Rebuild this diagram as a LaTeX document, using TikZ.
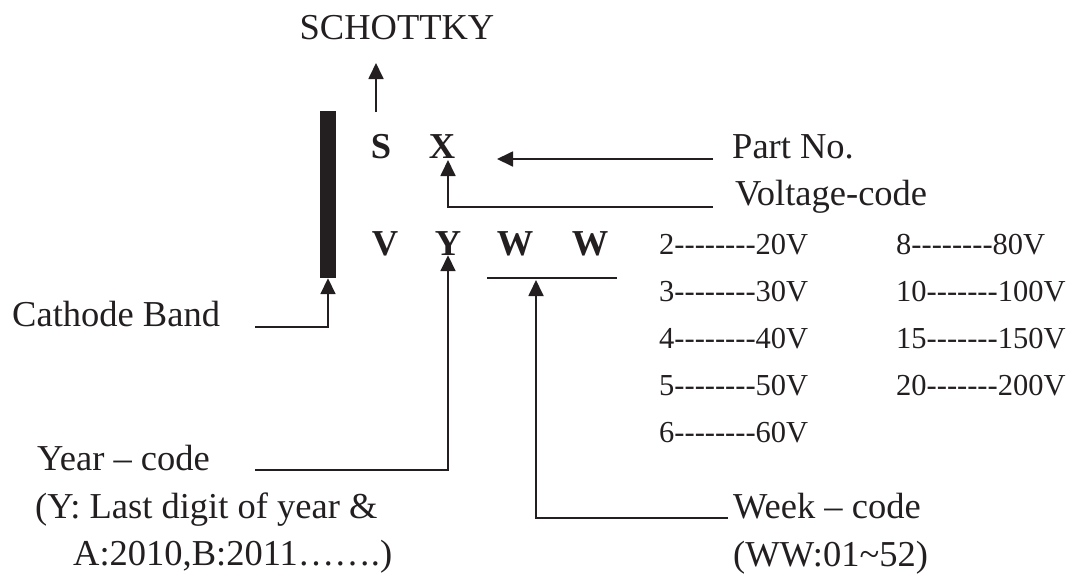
\documentclass[tikz,border=0pt]{standalone}
\usepackage{fontspec}
\setmainfont{Liberation Serif}[Ligatures=TeXOff]
\usetikzlibrary{arrows.meta, positioning}
\definecolor{ink}{HTML}{231F20}

\begin{document}
\begin{tikzpicture}[
    x=1pt, y=-1pt,
    lbl/.style={font=\fontsize{36.5}{44}\selectfont, text=ink, inner sep=0pt, anchor=base west},
    mark code/.style={font=\fontsize{36.5}{44}\selectfont\bfseries, text=ink, inner sep=0pt, anchor=base},
    volt/.style={font=\fontsize{30.5}{37}\selectfont, text=ink, inner sep=0pt, anchor=base west},
    line/.style={draw=ink, line width=1.8pt},
    arrow/.style={line, -{Triangle[length=16pt, width=15pt]}}
]
    \useasboundingbox (0,0) rectangle (1078,576);

    % marking letters
    \node[lbl, anchor=base] (schottky) at (397,39) {SCHOTTKY};
    \node[mark code] (scode) at (381,158) {S};
    \node[mark code] (xcode) at (442,158) {X};
    \node[mark code] (vcode) at (385,255) {V};
    \node[mark code] (ycode) at (448,255) {Y};
    \node[mark code] (wcode1) at (515,255) {W};
    \node[mark code] (wcode2) at (590,255) {W};
    \node[fill=ink, minimum width=16pt, minimum height=167pt, inner sep=0pt] (band) at (328,194.5) {};

    % labels
    \node[lbl] (part) at (732,158) {Part No.};
    \node[lbl] (voltage) at (735,205) {Voltage-code};
    \node[lbl] (cathode) at (12,326) {Cathode Band};
    \node[lbl] (year) at (37,470) {Year – code};
    \node[lbl] (yearnote) at (35,518) {(Y: Last digit of year \&};
    \node[lbl] (yearnote2) at (73,565) {A:2010,B:2011…….)};
    \node[lbl] (week) at (733,518) {Week – code};
    \node[lbl] (weeknote) at (733,566) {(WW:01\textasciitilde52)};

    % voltage table
    \foreach \txt [count=\i from 0] in {2--------20V, 3--------30V, 4--------40V, 5--------50V, 6--------60V}
        \node[volt] (vlow\i) at (659,{254+47*\i}) {\txt};
    \foreach \txt [count=\i from 0] in {8--------80V, 10-------100V, 15-------150V, 20-------200V}
        \node[volt] (vhigh\i) at (896,{254+47*\i}) {\txt};

    % connectors
    \coordinate (schtail) at (376,112);
    \coordinate (parttail) at (713,159);
    \coordinate (parttip) at (497,159);
    \coordinate (volttail) at (713,207);
    \coordinate (xtip) at (448,160);
    \coordinate (cathtail) at (255,327);
    \coordinate (yeartail) at (255,470);
    \coordinate (weektail) at (728,518);
    \coordinate (wwleft) at (487,278);
    \coordinate (wwright) at (617,278);
    \coordinate (wwtip) at (536,280);

    \draw[arrow] (schtail) -- ++(0,-49);
    \draw[arrow] (parttail) -- (parttip);
    \draw[arrow] (volttail) -| (xtip);
    \draw[arrow] (cathtail) -| (band.south);
    \draw[arrow] (yeartail) -| (ycode.south);
    \draw[line] (wwleft) -- (wwright);
    \draw[arrow] (weektail) -| (wwtip);
\end{tikzpicture}
\end{document}
